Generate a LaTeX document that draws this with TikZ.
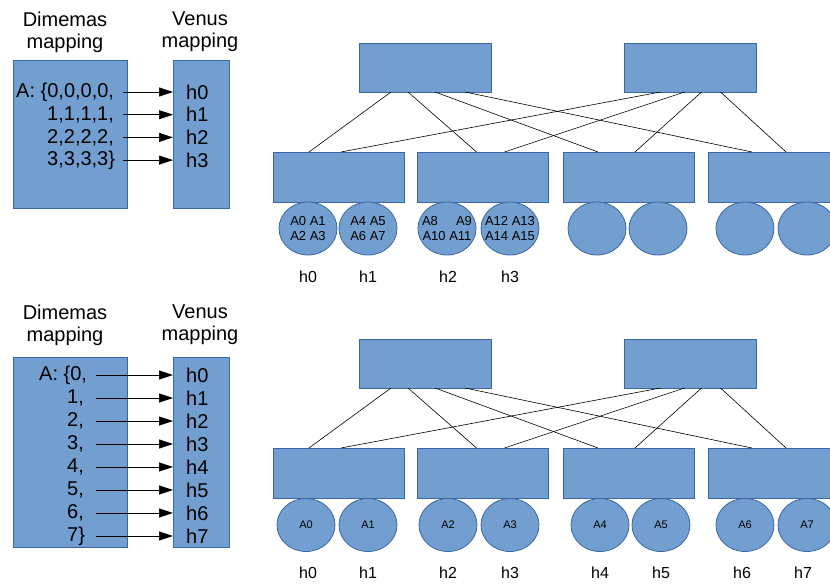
\documentclass[tikz,border=0pt]{standalone}
\usepackage{fontspec}
\setmainfont{Liberation Sans}
\usetikzlibrary{arrows.meta,calc,shapes.geometric}
\definecolor{boxfill}{HTML}{729FCF}
\definecolor{boxline}{HTML}{3A67A8}
\begin{document}
\begin{tikzpicture}[x=1pt,y=-1pt,
  blk/.style={draw=boxline, fill=boxfill, line width=0.8pt, inner sep=0pt, outer sep=0pt},
  swbox/.style={blk, minimum width=132, minimum height=49},
  leafbox/.style={blk, minimum width=131, minimum height=50},
  circ/.style={blk, ellipse, minimum width=58, minimum height=53},
  conn/.style={draw=black, line width=0.6pt},
  arr/.style={draw=black, line width=0.7pt, -{Triangle[length=14pt,width=9pt]}},
  big/.style={font=\fontsize{20}{22.7}\selectfont, inner sep=0pt},
  title/.style={font=\fontsize{20}{22}\selectfont, align=center, inner sep=0pt},
  hlab/.style={font=\fontsize{16}{18}\selectfont, inner sep=0pt},
  ctop/.style={font=\fontsize{13}{15}\selectfont, align=center, inner sep=0pt},
  cbot/.style={font=\fontsize{11}{13}\selectfont, inner sep=0pt}]
\useasboundingbox (0,0) rectangle (830,586);

% ---------- network skeletons ----------
\foreach \p/\dy in {a/0,b/296}{
\begin{scope}[yshift=-\dy pt]
  \node[swbox] (\p-L) at (425,67.5) {};
  \node[swbox] (\p-R) at (690.5,67.5) {};
  \node[leafbox] (\p-s1) at (338.5,177) {};
  \node[leafbox] (\p-s2) at (483,177) {};
  \node[leafbox] (\p-s3) at (628.5,177) {};
  \node[leafbox] (\p-s4) at (773.5,177) {};
  \draw[conn] ($(\p-L.south west)+(32,0)$) -- ($(\p-s1.north west)+(36,0)$);
  \draw[conn] ($(\p-L.south west)+(49,0)$) -- ($(\p-s2.north west)+(59,0)$);
  \draw[conn] ($(\p-L.south west)+(76,0)$) -- ($(\p-s3.north west)+(35,0)$);
  \draw[conn] ($(\p-L.south west)+(106,0)$) -- ($(\p-s4.north west)+(44,0)$);
  \draw[conn] ($(\p-R.south west)+(36,0)$) -- ($(\p-s1.north west)+(68,0)$);
  \draw[conn] ($(\p-R.south west)+(60,0)$) -- ($(\p-s2.north west)+(87,0)$);
  \draw[conn] ($(\p-R.south west)+(77,0)$) -- ($(\p-s3.north west)+(72,0)$);
  \draw[conn] ($(\p-R.south west)+(96,0)$) -- ($(\p-s4.north west)+(78,0)$);
\end{scope}
}

% ---------- top section circles ----------
\node[circ, label={[ctop]center:{A0 A1\\A2 A3}}] (a-c1) at (308,228.5) {};
\node[circ, label={[ctop]center:{A4 A5\\A6 A7}}] (a-c2) at (368,228.5) {};
\node[circ, label={[ctop]center:{A8\hspace{1.39em}A9\\A10 A11}}] (a-c3) at (447,228.5) {};
\node[circ, label={[ctop]center:{A12 A13\\A14 A15}}] (a-c4) at (510,228.5) {};
\node[circ] (a-c5) at (597,228.5) {};
\node[circ] (a-c6) at (658,228.5) {};
\node[circ] (a-c7) at (745,228.5) {};
\node[circ] (a-c8) at (807,228.5) {};
\node[hlab] (a-h0) at (308,277) {h0};
\node[hlab] (a-h1) at (368,277) {h1};
\node[hlab] (a-h2) at (448,277) {h2};
\node[hlab] (a-h3) at (510,277) {h3};

% ---------- bottom section circles ----------
\node[circ, label={[cbot]center:A0}] (b-c1) at (306,525) {};
\node[circ, label={[cbot]center:A1}] (b-c2) at (368,525) {};
\node[circ, label={[cbot]center:A2}] (b-c3) at (448,525) {};
\node[circ, label={[cbot]center:A3}] (b-c4) at (510,525) {};
\node[circ, label={[cbot]center:A4}] (b-c5) at (600,525) {};
\node[circ, label={[cbot]center:A5}] (b-c6) at (661,525) {};
\node[circ, label={[cbot]center:A6}] (b-c7) at (745,525) {};
\node[circ, label={[cbot]center:A7}] (b-c8) at (807,525) {};
\node[hlab] (b-h0) at (308,573) {h0};
\node[hlab] (b-h1) at (368,573) {h1};
\node[hlab] (b-h2) at (448,573) {h2};
\node[hlab] (b-h3) at (510,573) {h3};
\node[hlab] (b-h4) at (600,573) {h4};
\node[hlab] (b-h5) at (661,573) {h5};
\node[hlab] (b-h6) at (742,573) {h6};
\node[hlab] (b-h7) at (803,573) {h7};

% ---------- top mapping ----------
\node[title] (a-dt) at (65,32) {Dimemas\\mapping};
\node[title] (a-vt) at (200,32) {Venus\\mapping};
\node[blk, minimum width=114, minimum height=148] (a-dim) at (70,134) {};
\node[blk, minimum width=56, minimum height=148] (a-ven) at (201,134) {};
\node[big, anchor=west] (a-t0) at (16,92) {A: \{0,0,0,0,};
\node[big, anchor=west] (a-t1) at (47,114.7) {1,1,1,1,};
\node[big, anchor=west] (a-t2) at (47,137.4) {2,2,2,2,};
\node[big, anchor=west] (a-t3) at (47,160.1) {3,3,3,3\}};
\foreach \i/\yy in {0/92,1/114.7,2/137.4,3/160.1}{
  \node[big, anchor=west] (a-v\i) at (186,\yy) {h\i};
  \coordinate (a-s\i) at (123,\yy);
  \draw[arr] (a-s\i) -- (a-s\i -| a-ven.west);
}

% ---------- bottom mapping ----------
\node[title] (b-dt) at (65,325) {Dimemas\\mapping};
\node[title] (b-vt) at (200,325) {Venus\\mapping};
\node[blk, minimum width=114, minimum height=190] (b-dim) at (70,452) {};
\node[blk, minimum width=56, minimum height=190] (b-ven) at (201,452) {};
\node[big, anchor=west] (b-t0) at (39,375) {A: \{0,};
\foreach \i/\yy in {1/398,2/421,3/444,4/467,5/490,6/513}{
  \node[big, anchor=west] (b-t\i) at (67,\yy) {\i,};
}
\node[big, anchor=west] (b-t7) at (67,536) {7\}};
\foreach \i/\yy in {0/375,1/398,2/421,3/444,4/467,5/490,6/513,7/536}{
  \node[big, anchor=west] (b-v\i) at (186,\yy) {h\i};
  \coordinate (b-s\i) at (96,\yy);
  \draw[arr] (b-s\i) -- (b-s\i -| b-ven.west);
}
\end{tikzpicture}
\end{document}
